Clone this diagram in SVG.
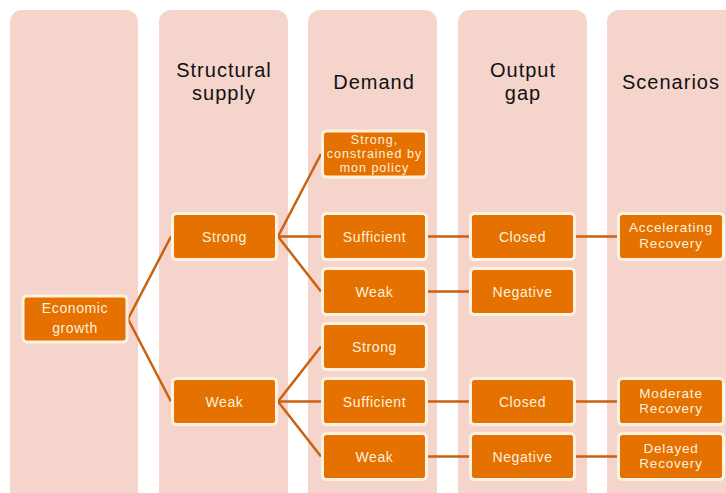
<svg xmlns="http://www.w3.org/2000/svg" width="726" height="493" viewBox="0 0 726 493">
  <style>
    .panel { fill: #F5D4CB; }
    .head { font-family: "Liberation Sans", Arial, sans-serif; font-size: 20px; letter-spacing: 1px; fill: #111; text-anchor: middle; }
    .box { fill: #E47100; stroke: #FFF2DE; stroke-width: 3; }
    .lbl { font-family: "Liberation Sans", Arial, sans-serif; font-size: 14px; letter-spacing: 0.6px; fill: #FFF0DC; text-anchor: middle; }
    .lbl.tight { font-size: 12.5px; letter-spacing: 1px; }
    .lbl.two { font-size: 13.5px; letter-spacing: 0.8px; }
    .link { stroke: #C9610F; stroke-width: 2.5; fill: none; }
  </style>

  <!-- column panels -->
  <g id="panels">
    <rect class="panel" x="10" y="10" width="128" height="495" rx="12"/>
    <rect class="panel" x="159" y="10" width="129" height="495" rx="12"/>
    <rect class="panel" x="308" y="10" width="129" height="495" rx="12"/>
    <rect class="panel" x="458" y="10" width="129" height="495" rx="12"/>
    <rect class="panel" x="607" y="10" width="130" height="495" rx="12"/>
  </g>

  <!-- column headings -->
  <g id="headings">
    <text class="head" x="224" y="77">Structural</text>
    <text class="head" x="224" y="99.5">supply</text>
    <text class="head" x="374" y="89">Demand</text>
    <text class="head" x="523" y="77">Output</text>
    <text class="head" x="523" y="99.5">gap</text>
    <text class="head" x="671" y="89">Scenarios</text>
  </g>

  <!-- connectors -->
  <g id="connectors">
    <line class="link" x1="128" y1="319" x2="171" y2="236.5"/>
    <line class="link" x1="128" y1="319" x2="171" y2="401.5"/>
    <line class="link" x1="278" y1="236.5" x2="321" y2="154"/>
    <line class="link" x1="278" y1="236.5" x2="321" y2="236.5"/>
    <line class="link" x1="278" y1="236.5" x2="321" y2="291.5"/>
    <line class="link" x1="278" y1="401.5" x2="321" y2="346.5"/>
    <line class="link" x1="278" y1="401.5" x2="321" y2="401.5"/>
    <line class="link" x1="278" y1="401.5" x2="321" y2="456.5"/>
    <line class="link" x1="428" y1="236.5" x2="469" y2="236.5"/>
    <line class="link" x1="576" y1="236.5" x2="617" y2="236.5"/>
    <line class="link" x1="428" y1="291.5" x2="469" y2="291.5"/>
    <line class="link" x1="428" y1="401.5" x2="469" y2="401.5"/>
    <line class="link" x1="576" y1="401.5" x2="617" y2="401.5"/>
    <line class="link" x1="428" y1="456.5" x2="469" y2="456.5"/>
    <line class="link" x1="576" y1="456.5" x2="617" y2="456.5"/>
  </g>

  <!-- nodes -->
  <g id="economic-growth">
    <rect class="box" x="23" y="296" width="104" height="46" rx="4"/>
    <text class="lbl" x="75" y="313">Economic</text>
    <text class="lbl" x="75" y="333">growth</text>
  </g>

  <g id="supply-strong">
    <rect class="box" x="172.5" y="213.5" width="104" height="46" rx="4"/>
    <text class="lbl" x="224.5" y="241.5">Strong</text>
  </g>
  <g id="supply-weak">
    <rect class="box" x="172.5" y="378.5" width="104" height="46" rx="4"/>
    <text class="lbl" x="224.5" y="406.5">Weak</text>
  </g>

  <g id="demand-strong-constrained">
    <rect class="box" x="322.5" y="131" width="104" height="46" rx="4"/>
    <text class="lbl tight" x="374.5" y="143.5">Strong,</text>
    <text class="lbl tight" x="374.5" y="157.5">constrained by</text>
    <text class="lbl tight" x="374.5" y="171.5">mon policy</text>
  </g>
  <g id="demand-sufficient-1">
    <rect class="box" x="322.5" y="213.5" width="104" height="46" rx="4"/>
    <text class="lbl" x="374.5" y="241.5">Sufficient</text>
  </g>
  <g id="demand-weak-1">
    <rect class="box" x="322.5" y="268.5" width="104" height="46" rx="4"/>
    <text class="lbl" x="374.5" y="296.5">Weak</text>
  </g>
  <g id="demand-strong">
    <rect class="box" x="322.5" y="323.5" width="104" height="46" rx="4"/>
    <text class="lbl" x="374.5" y="351.5">Strong</text>
  </g>
  <g id="demand-sufficient-2">
    <rect class="box" x="322.5" y="378.5" width="104" height="46" rx="4"/>
    <text class="lbl" x="374.5" y="406.5">Sufficient</text>
  </g>
  <g id="demand-weak-2">
    <rect class="box" x="322.5" y="433.5" width="104" height="46" rx="4"/>
    <text class="lbl" x="374.5" y="461.5">Weak</text>
  </g>

  <g id="gap-closed-1">
    <rect class="box" x="470.5" y="213.5" width="104" height="46" rx="4"/>
    <text class="lbl" x="522.5" y="241.5">Closed</text>
  </g>
  <g id="gap-negative-1">
    <rect class="box" x="470.5" y="268.5" width="104" height="46" rx="4"/>
    <text class="lbl" x="522.5" y="296.5">Negative</text>
  </g>
  <g id="gap-closed-2">
    <rect class="box" x="470.5" y="378.5" width="104" height="46" rx="4"/>
    <text class="lbl" x="522.5" y="406.5">Closed</text>
  </g>
  <g id="gap-negative-2">
    <rect class="box" x="470.5" y="433.5" width="104" height="46" rx="4"/>
    <text class="lbl" x="522.5" y="461.5">Negative</text>
  </g>

  <g id="scenario-accelerating">
    <rect class="box" x="618.5" y="213.5" width="105" height="46" rx="4"/>
    <text class="lbl two" x="671" y="232">Accelerating</text>
    <text class="lbl two" x="671" y="247.5">Recovery</text>
  </g>
  <g id="scenario-moderate">
    <rect class="box" x="618.5" y="378.5" width="105" height="46" rx="4"/>
    <text class="lbl two" x="671" y="397.5">Moderate</text>
    <text class="lbl two" x="671" y="413">Recovery</text>
  </g>
  <g id="scenario-delayed">
    <rect class="box" x="618.5" y="433.5" width="105" height="46" rx="4"/>
    <text class="lbl two" x="671" y="452.5">Delayed</text>
    <text class="lbl two" x="671" y="468">Recovery</text>
  </g>
</svg>
